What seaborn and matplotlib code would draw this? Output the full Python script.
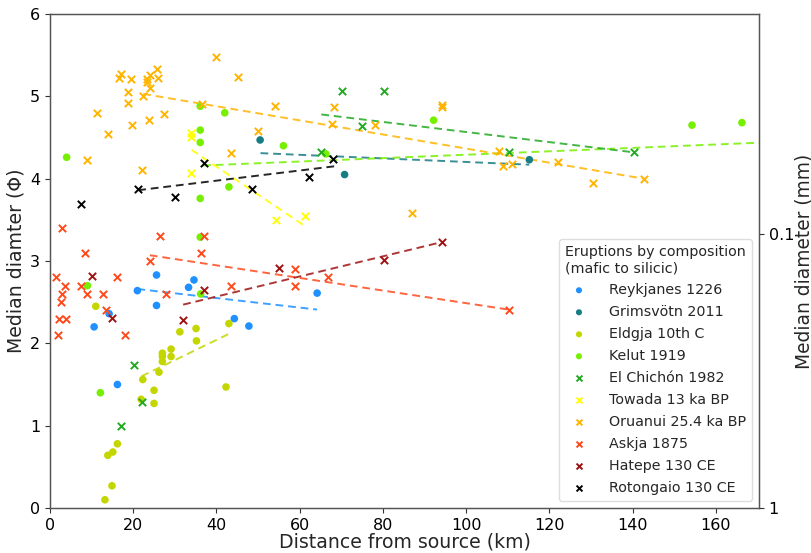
import numpy as np
import pandas as pd
import matplotlib
matplotlib.use("Agg")
import matplotlib.pyplot as plt
import seaborn as sns

sns.set_style("ticks")
plt.rcParams['font.family'] = ['DejaVu Sans']

# ---- data (distance km, median phi) ----
reyk_x = [25.6, 21.0, 34.6, 33.3, 25.6, 14.2, 10.6, 44.3, 47.8, 16.2, 64.2]
reyk_y = [2.83, 2.64, 2.77, 2.68, 2.46, 2.36, 2.20, 2.30, 2.21, 1.50, 2.61]

grim_x = [50.5, 70.8, 115.2]
grim_y = [4.47, 4.05, 4.23]

eldg_x = [11.0, 31.2, 35.1, 35.2, 43.0, 29.1, 27.0, 27.0, 29.1, 27.0, 26.2, 22.3, 42.3,
          25.0, 21.9, 25.0, 16.2, 15.1, 13.9, 14.9, 13.2]
eldg_y = [2.45, 2.14, 2.18, 2.03, 2.24, 1.93, 1.88, 1.84, 1.84, 1.78, 1.65, 1.56, 1.47,
          1.43, 1.32, 1.27, 0.78, 0.68, 0.64, 0.27, 0.10]

kelu_x = [4.0, 36.1, 42.0, 36.1, 36.1, 56.1, 43.0, 36.1, 36.1, 9.0, 36.2, 12.1, 66.3,
          92.2, 154.3, 166.3]
kelu_y = [4.26, 4.88, 4.80, 4.59, 4.44, 4.40, 3.90, 3.76, 3.29, 2.70, 2.60, 1.40, 4.30,
          4.71, 4.65, 4.68]

chic_x = [70.2, 80.2, 75.1, 65.2, 110.2, 140.3, 20.1, 22.1, 17.0]
chic_y = [5.07, 5.07, 4.64, 4.32, 4.32, 4.32, 1.74, 1.29, 1.00]

towa_x = [34.0, 34.0, 34.0, 54.2, 61.2]
towa_y = [4.55, 4.51, 4.07, 3.50, 3.55]

orua_x = [40.0, 17.0, 16.6, 19.5, 25.8, 24.0, 23.4, 26.0, 23.2, 24.0, 18.8, 22.4, 45.3,
          18.8, 36.5, 54.0, 11.2, 27.3, 19.6, 23.7, 14.0, 49.9, 43.5, 9.0, 22.1,
          68.3, 67.7, 78.1, 94.3, 94.3, 108.0, 108.9, 111.0, 122.0, 130.4, 87.0, 142.7]
orua_y = [5.48, 5.27, 5.22, 5.21, 5.33, 5.26, 5.21, 5.22, 5.17, 5.10, 5.05, 5.01, 5.24,
          4.92, 4.91, 4.88, 4.80, 4.78, 4.65, 4.71, 4.54, 4.58, 4.31, 4.23, 4.11,
          4.87, 4.67, 4.65, 4.90, 4.87, 4.34, 4.15, 4.18, 4.20, 3.95, 3.58, 4.00]

askj_x = [3.0, 26.5, 37.1, 8.4, 36.3, 24.0, 1.4, 16.0, 3.5, 7.4, 8.8, 3.0, 12.7, 27.8,
          43.5, 2.6, 13.4, 2.2, 3.8, 1.9, 18.0, 58.8, 58.8, 66.7, 110.2]
askj_y = [3.40, 3.30, 3.30, 3.10, 3.10, 3.00, 2.80, 2.80, 2.70, 2.70, 2.60, 2.60, 2.60, 2.60,
          2.70, 2.50, 2.40, 2.30, 2.30, 2.10, 2.10, 2.90, 2.70, 2.80, 2.41]

hate_x = [10.0, 15.0, 32.0, 37.0, 55.0, 80.2, 94.2]
hate_y = [2.82, 2.31, 2.28, 2.65, 2.92, 3.01, 3.23]

roto_x = [7.5, 21.2, 30.1, 37.0, 48.6, 62.2, 68.1]
roto_y = [3.69, 3.87, 3.78, 4.19, 3.88, 4.02, 4.24]

names = ["Reykjanes 1226", "Grimsvötn 2011", "Eldgja 10th C", "Kelut 1919",
         "El Chichón 1982", "Towada 13 ka BP", "Oruanui 25.4 ka BP", "Askja 1875",
         "Hatepe 130 CE", "Rotongaio 130 CE"]
xs = [reyk_x, grim_x, eldg_x, kelu_x, chic_x, towa_x, orua_x, askj_x, hate_x, roto_x]
ys = [reyk_y, grim_y, eldg_y, kelu_y, chic_y, towa_y, orua_y, askj_y, hate_y, roto_y]

# trend lines (start/end distance, start/end phi)
trend_x0 = [21.0, 50.6, 22.0, 36.8, 65.2, 34.0, 22.4, 24.0, 32.0, 21.2]
trend_x1 = [64.2, 115.2, 43.2, 172.0, 140.3, 60.8, 142.7, 110.2, 94.2, 68.3]
trend_y0 = [2.66, 4.31, 1.60, 4.16, 4.78, 4.35, 5.03, 3.07, 2.47, 3.86]
trend_y1 = [2.41, 4.17, 2.12, 4.44, 4.32, 3.44, 4.00, 2.41, 3.23, 4.15]

right_ticks_mm = [1, 0.1]

# ---- styles ----
colors = ["#1e90ff", "#177d84", "#c4d600", "#76f000", "#22aa22", "#ffff00",
          "#ffb400", "#ff4a1c", "#a01212", "#000000"]
markers = ["o", "o", "o", "o", "x", "x", "x", "x", "x", "x"]

fig = plt.figure(figsize=(8.12, 5.53), dpi=100)
ax = fig.add_axes([50/812, 1-508/553, (759-50)/812, (508-14)/553])

for name, x, y, c, m in zip(names, xs, ys, colors, markers):
    df = pd.DataFrame({"d": x, "phi": y})
    if m == "o":
        sns.scatterplot(data=df, x="d", y="phi", ax=ax, color=c, marker="o", s=30,
                        edgecolor="none", label=name, zorder=3)
    else:
        sns.scatterplot(data=df, x="d", y="phi", ax=ax, color=c, marker="x", s=28,
                        linewidth=1.4, label=name, zorder=3)

for i in range(len(names)):
    tdf = pd.DataFrame({"d": [trend_x0[i], trend_x1[i]], "phi": [trend_y0[i], trend_y1[i]]})
    sns.lineplot(data=tdf, x="d", y="phi", ax=ax, color=colors[i], linestyle=(0, (4, 2.5)),
                 linewidth=1.4, alpha=0.85, zorder=2, legend=False)

ax.set_xlim(0, 170.4)
ax.set_ylim(0, 6)
ax.set_xticks(range(0, 161, 20))
ax.set_yticks(range(0, 7))
ax.set_xlabel("Distance from source (km)", fontsize=13.6, labelpad=0)
ax.set_ylabel("Median diamter (Φ)", fontsize=13.6, labelpad=3)
ax.tick_params(labelsize=11.5, length=3.5, width=0.8, colors="#333333", labelcolor="black")
for s in ax.spines.values():
    s.set_color("#555555")
    s.set_linewidth(1.0)

ax2 = ax.twinx()
ax2.set_ylim(0, 6)
ax2.set_yticks([-np.log2(v) for v in right_ticks_mm])
ax2.set_yticklabels([f"{v:g}" for v in right_ticks_mm])
ax2.set_ylabel("Median diameter (mm)", fontsize=13.4, labelpad=0)
ax2.tick_params(labelsize=11.5, length=3.5, width=0.8, colors="#333333", labelcolor="black")
for s in ax2.spines.values():
    s.set_color("#555555")

handles, labels = ax.get_legend_handles_labels()
leg = ax.legend(handles, labels, title="Eruptions by composition\n(mafic to silicic)",
                loc="lower right", fontsize=10.3, title_fontsize=10.3, markerscale=0.8,
                frameon=True, framealpha=1, edgecolor="#dddddd", borderpad=0.4,
                handletextpad=1.1, labelspacing=0.56)
leg._legend_box.align = "left"

fig.savefig("out.png", dpi=100)
